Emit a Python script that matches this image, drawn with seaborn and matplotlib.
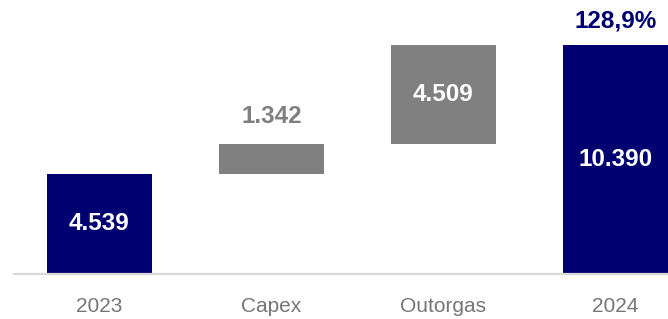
import matplotlib
matplotlib.use("Agg")
import matplotlib.pyplot as plt
import seaborn as sns
import pandas as pd

categories = ["2023", "Capex", "Outorgas", "2024"]
values = [4539, 1342, 4509, 10390]
bases = [0, 4539, 5881, 0]
labels = ["4.539", "1.342", "4.509", "10.390"]
growth_label = "128,9%"

NAVY = "#000070"
GRAY = "#808080"
bar_colors = [NAVY, GRAY, GRAY, NAVY]
label_colors = ["white", GRAY, "white", "white"]

sns.set_style("white")
plt.rcParams["font.family"] = ["Liberation Sans", "DejaVu Sans"]

fig = plt.figure(figsize=(6.68, 3.19), dpi=100)
W, H = 668, 319
ax = fig.add_axes([13.5 / W, 45.5 / H, 688 / W, 273.5 / H])

df = pd.DataFrame({"cat": categories, "val": values, "base": bases})
sns.barplot(data=df, x="cat", y="val", bottom=df["base"].values, color=GRAY,
            width=0.61, ax=ax, linewidth=0, saturation=1)
for p, c in zip(ax.patches, bar_colors):
    p.set_facecolor(c)

ax.set_xlim(-0.5, 3.5)
ax.set_ylim(0, 273.5 / 228.5 * 10390)

for i, (v, b, lab, lc) in enumerate(zip(values, bases, labels, label_colors)):
    if lc == "white":
        ax.text(i, b + v / 2, lab, ha="center", va="center", color="white",
                fontsize=17.5, fontweight="bold")
    else:
        ax.text(i, b + v + 750, lab, ha="center", va="bottom", color=lc,
                fontsize=17.5, fontweight="bold")

ax.text(3, values[3] + 550, growth_label, ha="center", va="bottom",
        color=NAVY, fontsize=17.5, fontweight="bold")

ax.set_xlabel("")
ax.set_ylabel("")
ax.set_yticks([])
for s in ["top", "right", "left"]:
    ax.spines[s].set_visible(False)
ax.spines["bottom"].set_color("#d9d9d9")
ax.spines["bottom"].set_linewidth(1.6)
ax.tick_params(axis="x", length=0, pad=17, labelsize=15, labelcolor="#767676")

fig.savefig("out.png", dpi=100)
